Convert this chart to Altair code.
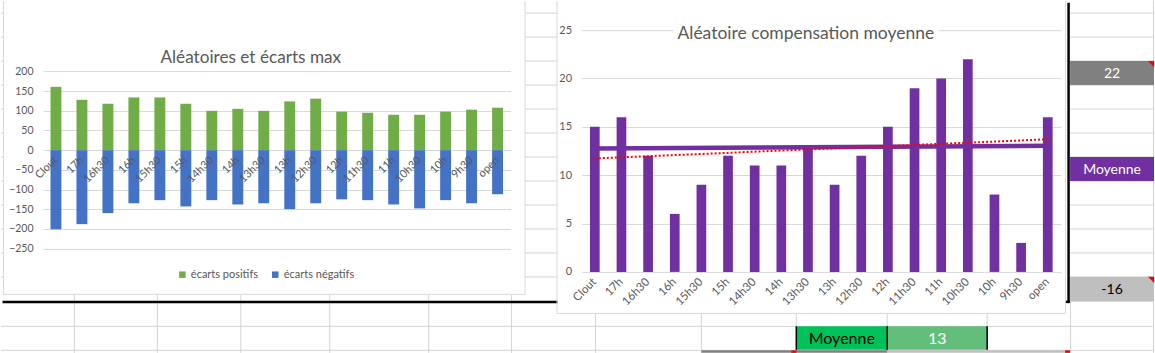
import altair as alt
import numpy as np
import pandas as pd

# ---------------- data ----------------
categories = ["Clout", "17h", "16h30", "16h", "15h30", "15h", "14h30", "14h", "13h30",
              "13h", "12h30", "12h", "11h30", "11h", "10h30", "10h", "9h30", "open"]
ecarts_positifs = [161, 128, 118, 134, 134, 118, 100, 105, 100, 124, 131, 98, 95, 90, 90, 98, 103, 108]
ecarts_negatifs = [-201, -188, -160, -135, -127, -143, -127, -138, -135, -150, -135, -125, -127, -138,
                   -148, -127, -135, -112]
compensation = [15, 16, 12, 6, 9, 12, 11, 11, 13, 9, 12, 15, 19, 20, 22, 8, 3, 16]
moyenne_cats = ["Clout", "open"]
moyenne_vals = [12.75, 13.05]
left_ticks = [200, 150, 100, 50, 0, -50, -100, -150, -200, -250]
right_ticks = [0, 5, 10, 15, 20, 25]
series_names = ["écarts positifs", "écarts négatifs"]
series_colors = ["#70ad47", "#4472c4"]
title_left = "Aléatoires et écarts max"
title_right = "Aléatoire compensation moyenne"
side_texts = ["22", "Moyenne", "-16"]
side_fills = ["#808080", "#7030a0", "#bfbfbf"]
side_text_colors = ["#ffffff", "#ffffff", "#000000"]
side_comment = [True, False, True]
bottom_texts = ["Moyenne", "13"]
bottom_fills = ["#00c05a", "#63be7b"]
bottom_text_colors = ["#000000", "#ffffff"]

# ---------------- style / layout ----------------
FONT = "Lato"
GRID = "#d9d9d9"
SHEET = "#d4d4d4"
TXT = "#595959"
H = 242
A_X0, A_Y0, A_W = 43, 30, 468
B_X0, B_Y0, B_W = 582, 30, 480

# left chart vertical mapping (page px)
px200, pxm250 = 71.4, 248.6
ppu = (pxm250 - px200) / 450.0
zero_px = px200 + 200 * ppu
domA = [-(A_Y0 + H - zero_px) / ppu, (zero_px - A_Y0) / ppu]
axis_offset_A = -(A_Y0 + H - zero_px)

one = pd.DataFrame({"k": [0]})


def hline(x1, x2, y, ox, oy, color=SHEET, w=1.0):
    return alt.Chart(one).mark_rule(color=color, strokeWidth=w).encode(
        x=alt.value(x1 - ox), x2=alt.value(x2 - ox), y=alt.value(y - oy))


def vline(x, y1, y2, ox, oy, color=SHEET, w=1.0):
    return alt.Chart(one).mark_rule(color=color, strokeWidth=w).encode(
        x=alt.value(x - ox), y=alt.value(y1 - oy), y2=alt.value(y2 - oy))


def rect(x1, x2, y1, y2, ox, oy, fill, opacity=1.0):
    return alt.Chart(one).mark_rect(color=fill, opacity=opacity).encode(
        x=alt.value(x1 - ox), x2=alt.value(x2 - ox), y=alt.value(y1 - oy), y2=alt.value(y2 - oy))


def text(s, x, y, ox, oy, size, color, align="center", baseline="middle"):
    return alt.Chart(one).mark_text(font=FONT, fontSize=size, color=color, align=align,
                                    baseline=baseline).encode(
        x=alt.value(x - ox), y=alt.value(y - oy), text=alt.value(s))


# ---------------- spreadsheet decoration (drawn in panel A coordinates) ----------------
deco = [rect(0, 1155, 0, 353, A_X0, A_Y0, "#ffffff", opacity=0.0)]
rows = [13 + 24 * k for k in range(12)]
for y in rows:
    deco.append(hline(1, 3, y, A_X0, A_Y0))
    deco.append(hline(525.5, 557.5, y, A_X0, A_Y0))
    deco.append(hline(1071, 1155, y, A_X0, A_Y0))
deco.append(hline(1071, 1155, 301.5, A_X0, A_Y0))
for y in [326.5, 350.5]:
    deco.append(hline(1, 1155, y, A_X0, A_Y0))
for x in [74.5, 157.5, 241, 330, 429, 512]:
    deco.append(vline(x, 294.5, 353, A_X0, A_Y0))
for x in [596, 702, 797, 888, 988]:
    deco.append(vline(x, 313.5, 353, A_X0, A_Y0))
deco.append(vline(1071.5, 302, 353, A_X0, A_Y0))
deco.append(vline(1154.5, 1, 353, A_X0, A_Y0))
# side cells
side_rows = [(61, 85), (157, 181), (277, 301)]
for (y1, y2), s, f, c, com in zip(side_rows, side_texts, side_fills, side_text_colors, side_comment):
    deco.append(rect(1071, 1155, y1, y2, A_X0, A_Y0, f))
    deco.append(text(s, 1113, (y1 + y2) / 2 + 1, A_X0, A_Y0, 14, c))
    if com:
        deco.append(alt.Chart(one).mark_point(shape="M -1 -1 L 1 -1 L 1 1 Z", filled=True, color="#ff0000",
                                              opacity=1, size=40).encode(
            x=alt.value(1152 - A_X0), y=alt.value(y1 + 3 - A_Y0)))
# bottom cells
bottom_cols = [(797, 888), (888, 988)]
for (x1, x2), s, f, c in zip(bottom_cols, bottom_texts, bottom_fills, bottom_text_colors):
    deco.append(rect(x1, x2, 326.5, 350, A_X0, A_Y0, f))
    deco.append(text(s, (x1 + x2) / 2, 339, A_X0, A_Y0, 16, c))
for x in [797, 888, 988]:
    deco.append(vline(x, 326.5, 350, A_X0, A_Y0, color="#000000", w=1.5))
deco.append(rect(702, 888, 350.5, 353, A_X0, A_Y0, "#808080"))
deco.append(rect(888, 1071, 350.5, 353, A_X0, A_Y0, "#bfbfbf"))
deco.append(rect(792, 797, 350.5, 353, A_X0, A_Y0, "#ff0000"))
deco.append(rect(1066, 1071, 350.5, 353, A_X0, A_Y0, "#ff0000"))
# thick black borders
deco.append(hline(2.5, 558, 302, A_X0, A_Y0, color="#000000", w=2.5))
deco.append(hline(1066, 1071, 302, A_X0, A_Y0, color="#000000", w=2.5))
deco.append(vline(1069.5, 2.5, 303, A_X0, A_Y0, color="#000000", w=2.5))
# frame of left chart
deco.append(vline(3.5, 1, 294.5, A_X0, A_Y0, color=GRID))
deco.append(vline(525.5, 1, 294.5, A_X0, A_Y0, color=GRID))
deco.append(hline(3.5, 525.5, 294.5, A_X0, A_Y0, color=GRID))

# ---------------- left chart ----------------
dfA = pd.DataFrame({
    "cat": categories * 2,
    "serie": [series_names[0]] * len(categories) + [series_names[1]] * len(categories),
    "val": ecarts_positifs + ecarts_negatifs,
})
barsA = alt.Chart(dfA).mark_bar().encode(
    x=alt.X("cat:N", sort=categories,
            scale=alt.Scale(paddingInner=0.58, paddingOuter=0.29),
            axis=alt.Axis(title=None, labelAngle=-45, labelAlign="right", labelBaseline="middle",
                          domain=False, ticks=False, labelPadding=8, offset=axis_offset_A, zindex=1,
                          labelFont=FONT, labelFontSize=11, labelColor=TXT)),
    y=alt.Y("val:Q", stack="zero",
            scale=alt.Scale(domain=domA, nice=False, zero=False),
            axis=alt.Axis(title=None, values=left_ticks, domain=False, ticks=False, labelPadding=10,
                          gridColor=GRID, labelFont=FONT, labelFontSize=10.5, labelColor=TXT)),
    color=alt.Color("serie:N", sort=series_names,
                    scale=alt.Scale(domain=series_names, range=series_colors),
                    legend=alt.Legend(title=None, orient="none", legendX=134, legendY=239,
                                      direction="horizontal", symbolType="square", symbolSize=42,
                                      symbolStrokeWidth=0, labelFont=FONT, labelFontSize=11,
                                      labelColor=TXT, columnPadding=11, labelOffset=3, padding=0)),
    order=alt.Order("serie:N"),
)
titleA = text(title_left, 251, 63, A_X0, A_Y0, 17.2, TXT, baseline="alphabetic")

panelA = alt.layer(*deco, barsA, titleA).properties(width=A_W, height=H)

# ---------------- right chart ----------------
dfB = pd.DataFrame({"cat": categories, "val": compensation, "idx": list(range(len(categories)))})
xB = alt.X("cat:N", sort=categories,
           scale=alt.Scale(paddingInner=0.636, paddingOuter=0.318),
           axis=alt.Axis(title=None, labelAngle=-45, labelAlign="right", labelBaseline="middle",
                         domain=False, ticks=False, labelPadding=8,
                         labelFont=FONT, labelFontSize=11.5, labelColor=TXT))
yB = alt.Y("val:Q", scale=alt.Scale(domain=[0, 25], nice=False),
           axis=alt.Axis(title=None, values=right_ticks, domain=False, ticks=False, labelPadding=10,
                         gridColor=GRID, labelFont=FONT, labelFontSize=11, labelColor=TXT))
frameB = [
    vline(557.5, 1, 313.5, B_X0, B_Y0, color=GRID),
    vline(1066.5, 1, 313.5, B_X0, B_Y0, color=GRID),
    hline(557.5, 1066.5, 313.5, B_X0, B_Y0, color=GRID),
]
barsB = alt.Chart(dfB).mark_bar(color="#7030a0").encode(x=xB, y=yB)
moyB = alt.Chart(pd.DataFrame({"cat": moyenne_cats, "val": moyenne_vals})).mark_line(
    color="#7030a0", strokeWidth=4.5).encode(x=alt.X("cat:N", sort=categories), y="val:Q")
trendB = alt.Chart(dfB).transform_regression("idx", "val").transform_lookup(
    lookup="idx", from_=alt.LookupData(dfB, key="idx", fields=["cat"])
).mark_line(color="#ff0000", strokeWidth=2, strokeDash=[2, 2]).encode(
    x=alt.X("cat:N", sort=categories), y="val:Q")
titleBg = rect(674, 940, 24, 44, B_X0, B_Y0, "#ffffff")
titleB = text(title_right, 806.5, 39, B_X0, B_Y0, 17.5, TXT, baseline="alphabetic")

panelB = alt.layer(*frameB, barsB, moyB, trendB, titleBg, titleB).properties(width=B_W, height=H)

chart = alt.hconcat(panelA, panelB, spacing=B_X0 - (A_X0 + A_W), bounds="flush").properties(
    padding=0, background="#ffffff"
).configure(font=FONT).configure_view(stroke="transparent", strokeWidth=0)

chart.save("out.html", embed_options={"renderer": "svg", "actions": False})
